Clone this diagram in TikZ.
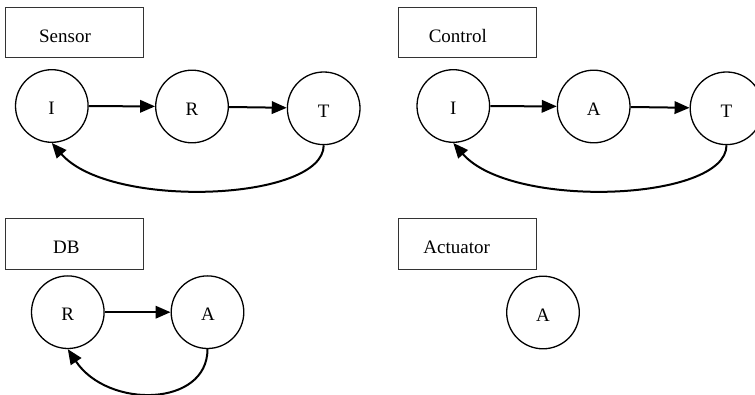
\documentclass[tikz,border=0pt]{standalone}
\usepackage{fontspec}
\setmainfont{Liberation Serif}
\usetikzlibrary{arrows.meta}
\tikzset{
  lbl/.style={draw=black!80, line width=0.9pt, minimum width=138pt, minimum height=50pt, inner sep=0pt},
  lbltext/.style={font=\fontsize{19}{19}\selectfont, inner sep=0pt, anchor=base},
  state/.style={draw, circle, line width=1.3pt, minimum size=72.6pt, inner sep=0pt},
  statetext/.style={font=\fontsize{19}{19}\selectfont, inner sep=0pt, anchor=base},
  conn/.style={line width=2pt, -{Triangle[length=15pt,width=12.5pt]}},
}
\begin{document}
\begin{tikzpicture}[x=1pt,y=-1pt]
\useasboundingbox (0,0) rectangle (755,395);
% Sensor
\node[lbl] (sbox) at (74.3,32.3) {};
\node[lbltext] (stxt) at (65,42.7) {Sensor};
\node[state] (sI) at (51.8,106) {};
\node[state] (sR) at (192,106.5) {};
\node[state] (sT) at (323.7,108.3) {};
\node[statetext] (sIt) at (51.5,115) {I};
\node[statetext] (sRt) at (192,115.5) {R};
\node[statetext] (sTt) at (323.7,117.3) {T};
\draw[conn] (sI) -- (sR);
\draw[conn] (sR) -- (sT);
\draw[conn] (sT.south) .. controls +(0,56) and +(58,67) .. (sI.south);
% Control
\node[lbl] (cbox) at (467.5,32.3) {};
\node[lbltext] (ctxt) at (457.8,42.7) {Control};
\node[state] (cI) at (453.3,106) {};
\node[state] (cA) at (593.7,106.5) {};
\node[state] (cT) at (726.5,108.3) {};
\node[statetext] (cIt) at (453.3,115) {I};
\node[statetext] (cAt) at (593.7,115.5) {A};
\node[statetext] (cTt) at (726.5,117.3) {T};
\draw[conn] (cI) -- (cA);
\draw[conn] (cA) -- (cT);
\draw[conn] (cT.south) .. controls +(0,56) and +(58,67) .. (cI.south);
% DB
\node[lbl, minimum height=51pt] (dbox) at (74.3,243.8) {};
\node[lbltext] (dtxt) at (66.3,253.3) {DB};
\node[state] (dR) at (67.8,312.2) {};
\node[state] (dA) at (207.5,312.2) {};
\node[statetext] (dRt) at (67.8,321) {R};
\node[statetext] (dAt) at (208,321) {A};
\draw[conn] (dR) -- (dA);
\draw[conn] (dA.south) .. controls +(0,58) and +(40,60) .. (dR.south);
% Actuator
\node[lbl, minimum height=51pt] (abox) at (467.5,243.8) {};
\node[lbltext] (atxt) at (456.7,253.3) {Actuator};
\node[state] (aA) at (543,312.5) {};
\node[statetext] (aAt) at (543,321.3) {A};
\end{tikzpicture}
\end{document}
